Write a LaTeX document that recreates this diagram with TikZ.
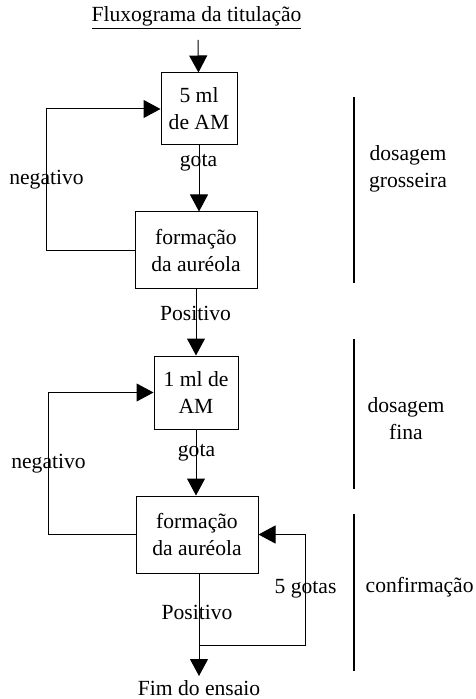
\documentclass[tikz,border=0pt]{standalone}
\usepackage{fontspec}
\setmainfont{Liberation Serif}
\usetikzlibrary{arrows.meta,positioning}
\tikzset{
  flow/.style={-{Triangle[length=8.5pt,width=9pt]},draw=black,line width=.5pt},
  stepbox/.style={draw=black,line width=.5pt,fill=white,align=center,
    inner sep=1pt,font=\fontsize{10.8}{13.5}\selectfont},
  caption/.style={font=\fontsize{10.8}{13.5}\selectfont,align=center,inner sep=0pt},
  phasebar/.style={draw=black,line width=.6pt},
}
\begin{document}
\begin{tikzpicture}[x=.5pt,y=-.5pt]
\useasboundingbox (0,0) rectangle (475,699);

\node[caption] (title) at (196.5,18) {\underline{Fluxograma da titulação}};
\coordinate (start) at (198,40);

% dosagem grosseira
\node[stepbox,minimum width=38pt,minimum height=36pt] (coarse) at (199,109)
  {5 ml\\de AM};
\node[stepbox,minimum width=61pt,minimum height=38.5pt] (halo1) at (196,250.5)
  {formação\\da auréola};
% dosagem fina
\node[stepbox,minimum width=42pt,minimum height=36.5pt] (fine) at (196,392.5)
  {1 ml de\\AM};
\node[stepbox,minimum width=61pt,minimum height=38.5pt] (halo2) at (197,534.5)
  {formação\\da auréola};
\node[caption] (finish) at (199,688) {Fim do ensaio};

\draw[flow] (start) -- (coarse);
\draw[flow] (coarse.south) -- (coarse.south |- halo1.north);
\draw[flow] (halo1.west) -- ++(-88,0) |- (coarse.west);
\draw[flow] (halo1.south) -- (halo1.south |- fine.north);
\draw[flow] (fine.south) -- (fine.south |- halo2.north);
\draw[flow] (halo2.west) -- ++(-87,0) |- (fine.west);
\coordinate (join) at (199,645);
\draw[flow] (199,573) -- ([yshift=2pt]finish.north);
\draw[flow] (join) -- ++(106,0) |- (halo2.east);

\node[caption] at (198.5,163) {gota};
\node[caption] at (46.5,180) {negativo};
\node[caption] at (195.5,313) {Positivo};
\node[caption] at (196.5,453) {gota};
\node[caption] at (48.5,464) {negativo};
\node[caption] at (305.5,589) {5 gotas};
\node[caption] at (197,612) {Positivo};

% fases
\draw[phasebar] (354,97) -- (354,283);
\draw[phasebar] (354,339) -- (354,489);
\draw[phasebar] (354,514) -- (354,671);
\node[caption] at (408,169) {dosagem\\grosseira};
\node[caption] at (406,419) {dosagem\\fina};
\node[caption,anchor=east] at (474,587) {confirmação};
\end{tikzpicture}
\end{document}
